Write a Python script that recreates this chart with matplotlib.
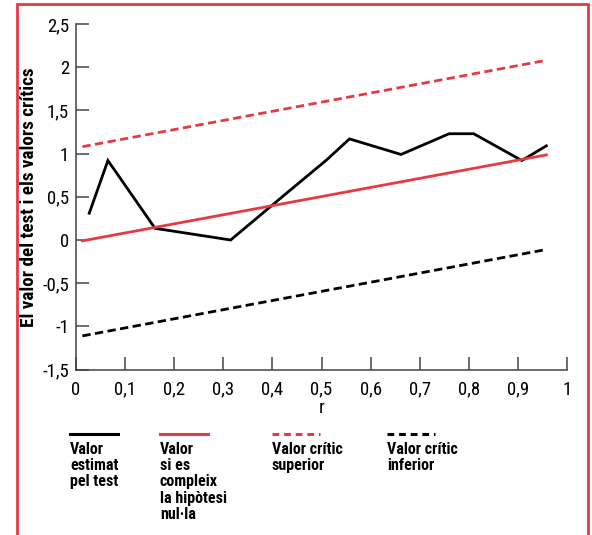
import matplotlib
matplotlib.use("Agg")
import matplotlib.pyplot as plt
from matplotlib.lines import Line2D
from matplotlib.patches import Rectangle

plt.rcParams['font.family'] = ['Roboto Condensed', 'Roboto', 'DejaVu Sans']

RED = '#e63a43'

# Test statistic estimated from the data
r_est = [0.027, 0.065, 0.161, 0.315, 0.42, 0.51, 0.557, 0.662, 0.76, 0.81, 0.908, 0.958]
v_est = [0.31, 0.92, 0.135, 0.0, 0.5, 0.925, 1.17, 0.99, 1.23, 1.23, 0.92, 1.09]

# Value under the null hypothesis and the critical bounds
r_ref = [0.013, 0.958]
v_null = [-0.01, 0.985]
v_upper = [1.08, 2.08]
v_lower = [-1.11, -0.11]

xticks = [0, 0.1, 0.2, 0.3, 0.4, 0.5, 0.6, 0.7, 0.8, 0.9, 1]
yticks = [-1.5, -1, -0.5, 0, 0.5, 1, 1.5, 2, 2.5]

legend_labels = [
    "Valor\nestimat\npel test",
    "Valor\nsi es\ncompleix\nla hipòtesi\nnul·la",
    "Valor crític\nsuperior",
    "Valor crític\ninferior",
]


def fmt(v):
    return ('%g' % v).replace('.', ',')


fig = plt.figure(figsize=(5.92, 5.35), dpi=100)
ax = fig.add_axes([76 / 592, 1 - 369.6 / 535, 491 / 592, 345.6 / 535])

lw = 2.0
ax.plot(r_est, v_est, color='black', lw=lw, solid_joinstyle='miter')
ax.plot(r_ref, v_null, color=RED, lw=lw)
ax.plot(r_ref, v_upper, color=RED, lw=lw, dashes=(3, 1.6))
ax.plot(r_ref, v_lower, color='black', lw=lw, dashes=(3, 1.6))

ax.set_xlim(0, 1)
ax.set_ylim(-1.5, 2.5)
ax.set_xticks(xticks)
ax.set_xticklabels([fmt(v) for v in xticks])
ax.set_yticks(yticks)
ax.set_yticklabels([fmt(v) for v in yticks])
ax.tick_params(direction='in', length=9.5, width=1.1, color='#444444',
               labelsize=13.5, pad=5, labelcolor='black')
ax.tick_params(axis='x', pad=8)
for side in ('top', 'right'):
    ax.spines[side].set_visible(False)
for side in ('left', 'bottom'):
    ax.spines[side].set_color('#444444')
    ax.spines[side].set_linewidth(1.1)

ax.set_xlabel('r', fontsize=13.5, labelpad=0)
ax.set_ylabel('El valor del test i els valors crítics', fontsize=13.8,
              fontweight='bold')
ax.yaxis.set_label_coords((38 - 76) / 491, 0.5)

# Legend drawn under the plot: line sample with text below
legend_x = [70, 160, 272, 387]
legend_styles = [
    dict(color='black'),
    dict(color=RED),
    dict(color=RED, dashes=(2.2, 1.6)),
    dict(color='black', dashes=(2.2, 1.6)),
]
y_line = 1 - 434 / 535
for x0, style, label in zip(legend_x, legend_styles, legend_labels):
    fig.add_artist(Line2D([x0 / 592, (x0 + 48) / 592], [y_line, y_line],
                          transform=fig.transFigure, lw=2.2, **style))
    fig.text(x0 / 592, 1 - 442 / 535, label, ha='left', va='top',
             fontsize=11.5, fontweight='bold', linespacing=1.1)

# Red frame around the figure
fig.add_artist(Rectangle((17 / 592, -0.05), 571 / 592, 1.05 - 4 / 535,
                         transform=fig.transFigure, fill=False,
                         edgecolor=RED, lw=2.0, clip_on=False))

fig.savefig('out.png', dpi=100)
